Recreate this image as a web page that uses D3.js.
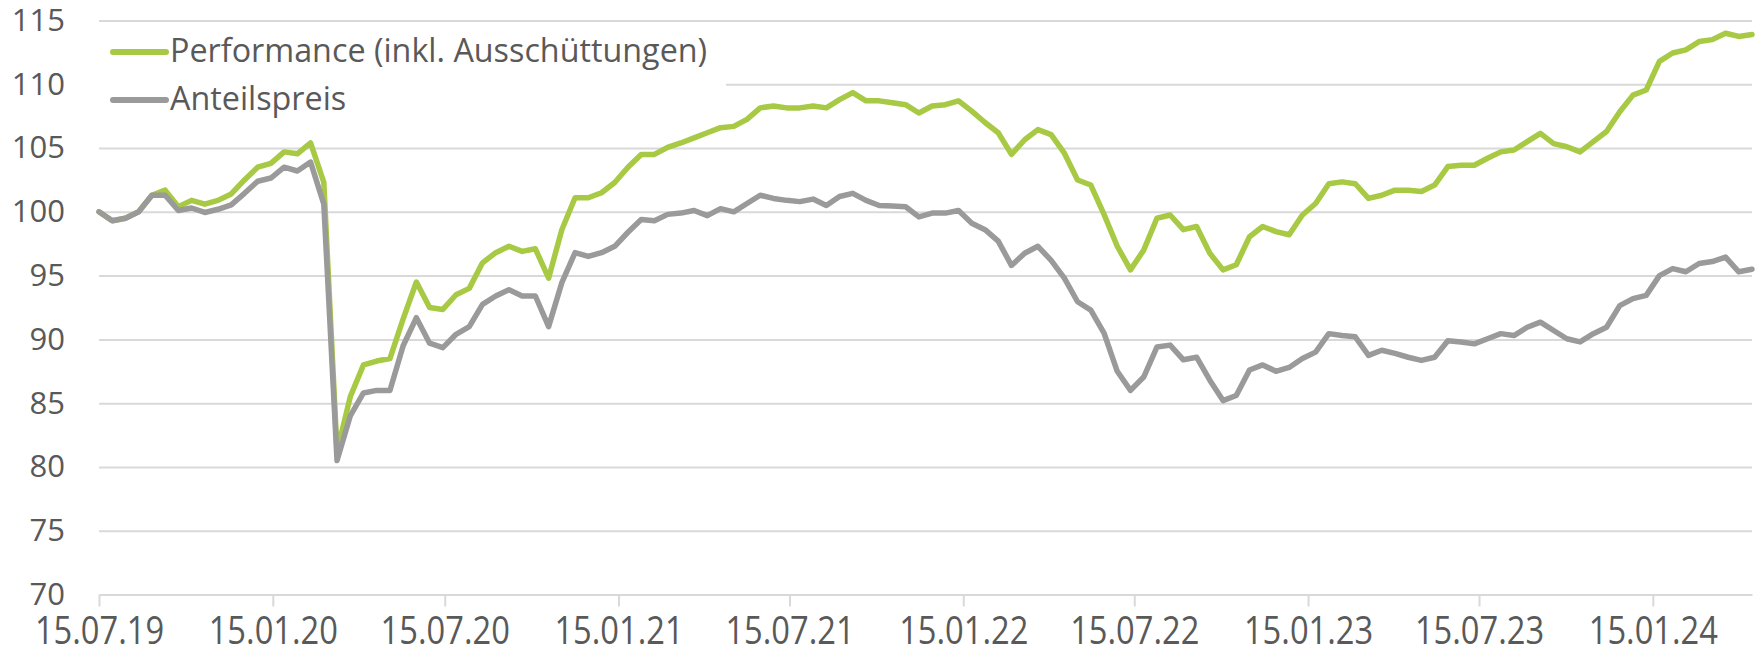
<!DOCTYPE html>
<html lang="de">
<head>
  <meta charset="UTF-8">
  <title>Performance</title>
  <script src="https://cdn.jsdelivr.net/npm/d3@7"></script>
  <style>
    body { margin: 0; background: #fff; }
    svg { display: block; }
    svg text { font-family: "Open Sans", sans-serif; }
    .grid line { stroke: #d9d9d9; stroke-width: 2; }
    .grid path { display: none; }
    .axis text { fill: #595959; }
    .axis path, .axis line { stroke: #d9d9d9; stroke-width: 2; }
    .line { fill: none; stroke-width: 5.5; stroke-linejoin: round; stroke-linecap: round; }
    .legend text { fill: #595959; font-size: 32.3px; }
  </style>
</head>
<body>
<script>

  // sampling of the series: one value every 14 days from the start date
  var startDate = "2019-07-15";
  var stepDays = 14;

  var seriesNames = ["Performance (inkl. Ausschüttungen)", "Anteilspreis"];
  var seriesColors = ["#a7c944", "#9a9a9a"];

  var performance = [
    100.0, 99.3, 99.5, 100.0, 101.3, 101.7, 100.4, 100.9, 100.6, 100.9,
    101.4, 102.5, 103.5, 103.8, 104.7, 104.55, 105.4, 102.3, 81.2, 85.5,
    88.0, 88.3, 88.5, 91.6, 94.5, 92.5, 92.35, 93.5, 94.0, 96.0,
    96.8, 97.3, 96.9, 97.1, 94.8, 98.6, 101.1, 101.1, 101.5, 102.3,
    103.5, 104.5, 104.5, 105.05, 105.4, 105.8, 106.2, 106.6, 106.7, 107.25,
    108.15, 108.3, 108.15, 108.15, 108.3, 108.15, 108.8, 109.35, 108.7, 108.7,
    108.55, 108.4, 107.75, 108.3, 108.4, 108.7, 107.9, 107.0, 106.2, 104.5,
    105.65, 106.45, 106.05, 104.6, 102.5, 102.1, 99.8, 97.3, 95.45, 97.0,
    99.5, 99.75, 98.6, 98.85, 96.75, 95.45, 95.85, 98.05, 98.85, 98.45,
    98.2, 99.75, 100.65, 102.2, 102.35, 102.2, 101.05, 101.3, 101.7, 101.7,
    101.6, 102.1, 103.55, 103.65, 103.65, 104.2, 104.7, 104.85, 105.5, 106.15,
    105.35, 105.1, 104.7, 105.5, 106.3, 107.85, 109.15, 109.55, 111.8, 112.45,
    112.7, 113.35, 113.5, 114.0, 113.75, 113.9
  ];

  var anteilspreis = [
    100.0, 99.3, 99.5, 100.0, 101.3, 101.3, 100.1, 100.3, 99.95, 100.2,
    100.55, 101.45, 102.4, 102.65, 103.5, 103.2, 103.9, 100.6, 80.5, 84.0,
    85.8, 86.0, 86.0, 89.5, 91.7, 89.7, 89.35, 90.4, 91.0, 92.75,
    93.4, 93.9, 93.4, 93.4, 91.0, 94.45, 96.8, 96.5, 96.8, 97.3,
    98.4, 99.4, 99.3, 99.8, 99.9, 100.1, 99.7, 100.25, 100.0, 100.65,
    101.3, 101.05, 100.9, 100.8, 101.0, 100.5, 101.2, 101.45, 100.9, 100.5,
    100.45, 100.4, 99.6, 99.9, 99.9, 100.1, 99.1, 98.6, 97.7, 95.8,
    96.75, 97.3, 96.2, 94.8, 92.95, 92.3, 90.5, 87.5, 86.0, 87.05,
    89.4, 89.55, 88.4, 88.6, 86.8, 85.2, 85.6, 87.6, 88.0, 87.5,
    87.8, 88.5, 89.0, 90.45, 90.3, 90.2, 88.75, 89.15, 88.9, 88.6,
    88.35, 88.6, 89.9, 89.8, 89.65, 90.05, 90.45, 90.3, 90.95, 91.35,
    90.7, 90.05, 89.8, 90.45, 90.95, 92.65, 93.2, 93.45, 95.0, 95.55,
    95.3, 95.95, 96.1, 96.45, 95.3, 95.5
  ];

  var xTickLabels = ["15.07.19", "15.01.20", "15.07.20", "15.01.21", "15.07.21",
                     "15.01.22", "15.07.22", "15.01.23", "15.07.23", "15.01.24"];
  var yTicks = [70, 75, 80, 85, 90, 95, 100, 105, 110, 115];

  var W = 1759, H = 655;
  var margin = {top: 20.5, right: 7, bottom: 60.5, left: 99};

  var parseDay = d3.timeParse("%Y-%m-%d");
  var parseTick = d3.timeParse("%d.%m.%y");
  var t0 = parseDay(startDate);
  var dateAt = function(i) { return d3.timeDay.offset(t0, i * stepDays); };

  var xScale = d3.scaleTime()
    .domain([t0, dateAt(performance.length - 1)])
    .range([margin.left, W - margin.right]);

  var yScale = d3.scaleLinear()
    .domain([70, 115])
    .range([H - margin.bottom, margin.top]);

  var svg = d3.select("body").append("svg")
    .attr("width", W)
    .attr("height", H);

  // gridlines
  svg.append("g")
    .attr("class", "grid")
    .attr("transform", "translate(" + margin.left + ",0)")
    .call(d3.axisLeft(yScale).tickValues(yTicks.slice(1)).tickSize(-(W - margin.left - margin.right)).tickFormat(""));

  // y labels
  svg.append("g")
    .attr("class", "axis")
    .attr("transform", "translate(" + margin.left + ",0)")
    .call(d3.axisLeft(yScale).tickValues(yTicks).tickSize(0).tickPadding(34))
    .call(function(g) { g.select(".domain").remove(); })
    .selectAll("text")
    .attr("font-size", "31px");

  // x axis (labels a bit narrow, like the original)
  var xAxis = svg.append("g")
    .attr("class", "axis")
    .attr("transform", "translate(0," + yScale(70) + ")")
    .call(d3.axisBottom(xScale)
      .tickValues(xTickLabels.map(parseTick))
      .tickFormat(d3.timeFormat("%d.%m.%y"))
      .tickSize(12)
      .tickSizeOuter(0)
      .tickPadding(11));
  xAxis.selectAll("text")
    .attr("font-size", "38px")
    .attr("transform", "scale(0.86,1)");

  // lines, green first, grey on top
  var line = d3.line()
    .x(function(d, i) { return xScale(dateAt(i)); })
    .y(function(d) { return yScale(d); });

  [performance, anteilspreis].forEach(function(s, k) {
    svg.append("path")
      .datum(s)
      .attr("class", "line")
      .attr("stroke", seriesColors[k])
      .attr("d", line);
  });

  // legend with white box over the gridline
  var legend = svg.append("g").attr("class", "legend");
  legend.append("rect")
    .attr("x", 95).attr("y", 30)
    .attr("width", 631).attr("height", 86)
    .attr("fill", "#fff");

  seriesNames.forEach(function(name, k) {
    var yy = 52 + k * 48;
    legend.append("line")
      .attr("x1", 113).attr("x2", 166)
      .attr("y1", yy).attr("y2", yy)
      .attr("stroke", seriesColors[k])
      .attr("stroke-width", 6)
      .attr("stroke-linecap", "round");
    legend.append("text")
      .attr("x", 170)
      .attr("y", yy + 10)
      .text(name);
  });

</script>
</body>
</html>
